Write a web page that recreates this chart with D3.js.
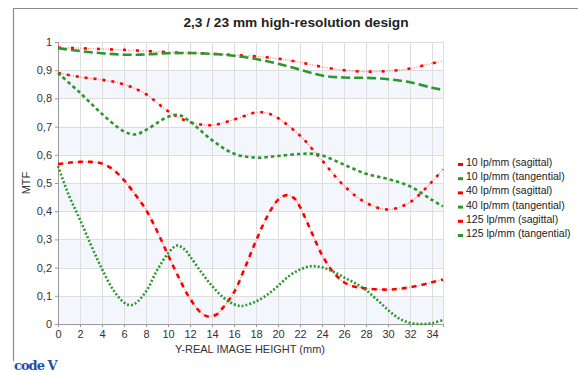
<!DOCTYPE html>
<html>
<head>
<meta charset="utf-8">
<script src="https://cdn.jsdelivr.net/npm/d3@7/dist/d3.min.js"></script>
<style>
  html, body { margin: 0; padding: 0; background: #fff; }
  svg { display: block; font-family: "Liberation Sans", Arial, sans-serif; }
</style>
</head>
<body>
<svg id="chart" width="578" height="372"></svg>
<script>
// MTF versus real image height, 2,3 / 23 mm lens
const title = "2,3 / 23 mm high-resolution design";
const xLabel = "Y-REAL IMAGE HEIGHT (mm)";
const yLabel = "MTF";
const xTicks = [0, 2, 4, 6, 8, 10, 12, 14, 16, 18, 20, 22, 24, 26, 28, 30, 32, 34];
const yTicks = [0, 0.1, 0.2, 0.3, 0.4, 0.5, 0.6, 0.7, 0.8, 0.9, 1];
const seriesNames = [
  "10 lp/mm (sagittal)", "10 lp/mm (tangential)",
  "40 lp/mm (sagittal)", "40 lp/mm (tangential)",
  "125 lp/mm (sagittal)", "125 lp/mm (tangential)"
];

// [image height mm, MTF]
const s10sag = [[0,0.98],[2,0.978],[4,0.975],[6,0.972],[8,0.968],[10,0.964],[12,0.961],[14,0.958],[16,0.954],[18,0.949],[20,0.941],[22,0.928],[24,0.912],[26,0.9],[28,0.895],[30,0.897],[32,0.906],[34,0.924],[35,0.933]];
const s10tan = [[0,0.978],[2,0.968],[4,0.96],[6,0.955],[8,0.956],[10,0.96],[12,0.961],[14,0.958],[16,0.951],[18,0.94],[20,0.923],[22,0.902],[24,0.881],[26,0.874],[28,0.873],[30,0.868],[32,0.857],[34,0.838],[35,0.83]];
const s40sag = [[0,0.89],[2,0.876],[4,0.866],[6,0.85],[8,0.815],[10,0.755],[12,0.716],[14,0.705],[16,0.725],[18,0.75],[19,0.748],[20,0.73],[22,0.668],[24,0.58],[26,0.49],[28,0.43],[30,0.406],[32,0.432],[34,0.505],[35,0.548]];
const s40tan = [[0,0.89],[2,0.82],[4,0.745],[6,0.683],[7,0.672],[8,0.688],[10,0.735],[11,0.741],[12,0.718],[14,0.652],[16,0.604],[18,0.59],[20,0.596],[22,0.603],[23,0.604],[24,0.598],[26,0.565],[28,0.533],[30,0.514],[32,0.488],[34,0.44],[35,0.417]];
const s125sag = [[0,0.567],[1,0.572],[2,0.575],[3,0.575],[4,0.569],[5,0.548],[6,0.51],[7,0.46],[8,0.405],[9,0.33],[10,0.245],[11,0.163],[12,0.09],[13,0.04],[13.7,0.026],[14.5,0.036],[15,0.058],[16,0.112],[17,0.2],[18,0.295],[19,0.38],[20,0.44],[20.8,0.457],[21.5,0.445],[22,0.415],[23,0.33],[24,0.245],[25,0.185],[26,0.148],[27,0.132],[28,0.126],[30,0.122],[32,0.13],[34,0.148],[35,0.158]];
const s125tan = [[0,0.56],[1,0.455],[2,0.37],[3,0.28],[4,0.195],[5,0.122],[6,0.076],[6.5,0.067],[7,0.072],[8,0.115],[9,0.19],[10,0.25],[10.8,0.278],[11.5,0.265],[12,0.24],[13,0.185],[14,0.135],[15,0.095],[16,0.07],[16.6,0.064],[17,0.066],[18,0.08],[19,0.103],[20,0.135],[21,0.17],[22,0.193],[23,0.205],[24,0.201],[25,0.186],[26,0.165],[27,0.145],[28,0.12],[29,0.086],[30,0.05],[31,0.02],[32,0.004],[33,0],[34,0.003],[35,0.014]];

const RED = "#ff0000", RED_LIGHT = "#ff8080", GREEN = "#2c972c";

// line styles: sagittal curves use a thin dotted base with heavier dashes on top
const styles = [
  { data: s10sag, color: RED, kind: "sag", dash: "3,10", base: "1,1.5" },
  { data: s10tan, color: GREEN, kind: "tan", dash: "9,4", width: 2.6 },
  { data: s40sag, color: RED, kind: "sag", dash: "3,6", base: "1,1.5" },
  { data: s40tan, color: GREEN, kind: "tan", dash: "3.5,3", width: 2.6 },
  { data: s125sag, color: RED, kind: "sag", dash: "5,5", base: "1,1.5" },
  { data: s125tan, color: GREEN, kind: "tan", dash: "2,2", width: 2.6 }
];

const svg = d3.select("#chart");
const plot = { left: 58, right: 443, top: 42, bottom: 324 };

const x = d3.scaleLinear().domain([0, 35]).range([plot.left, plot.right]);
const y = d3.scaleLinear().domain([0, 1]).range([plot.bottom, plot.top]);

// outer frame
svg.append("line").attr("x1", 13).attr("x2", 578).attr("y1", 8.5).attr("y2", 8.5)
  .attr("stroke", "#8a8a8a").attr("stroke-width", 1.2);
svg.append("line").attr("x1", 13.5).attr("x2", 13.5).attr("y1", 8).attr("y2", 361)
  .attr("stroke", "#8a8a8a").attr("stroke-width", 1.2);

// alternating bands
const bandStarts = [0, 0.2, 0.4, 0.6, 0.8];
svg.append("g").selectAll("rect").data(bandStarts).join("rect")
  .attr("x", plot.left).attr("width", plot.right - plot.left)
  .attr("y", d => y(d + 0.1)).attr("height", d => y(d) - y(d + 0.1))
  .attr("fill", "#f3f7fd");

// grid
const grid = svg.append("g").attr("stroke", "#dedede").attr("stroke-width", 1);
grid.selectAll("line.v").data(xTicks.concat([35])).join("line")
  .attr("x1", d => Math.round(x(d)) + 0.5).attr("x2", d => Math.round(x(d)) + 0.5)
  .attr("y1", plot.top).attr("y2", plot.bottom);
grid.selectAll("line.h").data(yTicks).join("line")
  .attr("y1", d => Math.round(y(d)) + 0.5).attr("y2", d => Math.round(y(d)) + 0.5)
  .attr("x1", plot.left).attr("x2", plot.right);

// axes
const fmt = d => d3.format(".1f")(d).replace(".", ",").replace(/^1,0$/, "1").replace(/^0,0$/, "0");
const yAxis = d3.axisLeft(y).tickValues(yTicks).tickSize(3).tickPadding(3).tickFormat(fmt);
const xAxis = d3.axisBottom(x).tickValues(xTicks).tickSize(3).tickPadding(3).tickFormat(d3.format("d"));

const gy = svg.append("g").attr("transform", `translate(${plot.left},0)`).call(yAxis);
const gx = svg.append("g").attr("transform", `translate(0,${plot.bottom})`).call(xAxis);
[gx, gy].forEach(g => {
  g.select(".domain").attr("stroke", "#9a9a9a");
  g.selectAll(".tick line").attr("stroke", "#9a9a9a");
  g.selectAll(".tick text").attr("fill", "#333").style("font-size", "11px")
    .style("font-family", "'Liberation Sans', Arial, sans-serif");
});

// curves
const line = d3.line().x(d => x(d[0])).y(d => y(d[1])).curve(d3.curveCatmullRom.alpha(0.5));
const curves = svg.append("g").attr("fill", "none");
styles.forEach(s => {
  if (s.kind === "sag") {
    curves.append("path").attr("d", line(s.data)).attr("stroke", RED_LIGHT)
      .attr("stroke-width", 1.2).attr("stroke-dasharray", s.base);
    curves.append("path").attr("d", line(s.data)).attr("stroke", s.color)
      .attr("stroke-width", 2.6).attr("stroke-dasharray", s.dash);
  } else {
    curves.append("path").attr("d", line(s.data)).attr("stroke", s.color)
      .attr("stroke-width", s.width).attr("stroke-dasharray", s.dash);
  }
});

// title
svg.append("text").attr("x", 296).attr("y", 27).attr("text-anchor", "middle")
  .style("font-size", "13.7px").style("font-weight", "bold").attr("fill", "#222")
  .text(title);

// axis titles
svg.append("text").attr("x", 250).attr("y", 353).attr("text-anchor", "middle")
  .style("font-size", "11px").attr("fill", "#333").text(xLabel);
svg.append("text").attr("transform", "translate(30,183) rotate(-90)").attr("text-anchor", "middle")
  .style("font-size", "11px").attr("fill", "#333").text(yLabel);

// legend
const legend = svg.append("g").attr("transform", "translate(458,162)");
const rows = legend.selectAll("g").data(seriesNames).join("g")
  .attr("transform", (d, i) => `translate(0,${i * 14.2})`);
rows.append("rect").attr("x", 0).attr("y", 1).attr("width", 5).attr("height", 3)
  .attr("fill", (d, i) => styles[i].color);
rows.append("text").attr("x", 8).attr("y", 4).style("font-size", "10.5px").attr("fill", "#222")
  .text(d => d);

// logo
svg.append("text").attr("x", 14).attr("y", 370).style("font-size", "13px").style("font-weight", "bold")
  .style("font-family", "'DejaVu Serif', serif").attr("fill", "#1f4fa8").attr("letter-spacing", "-1")
  .text("code V");
</script>
</body>
</html>
